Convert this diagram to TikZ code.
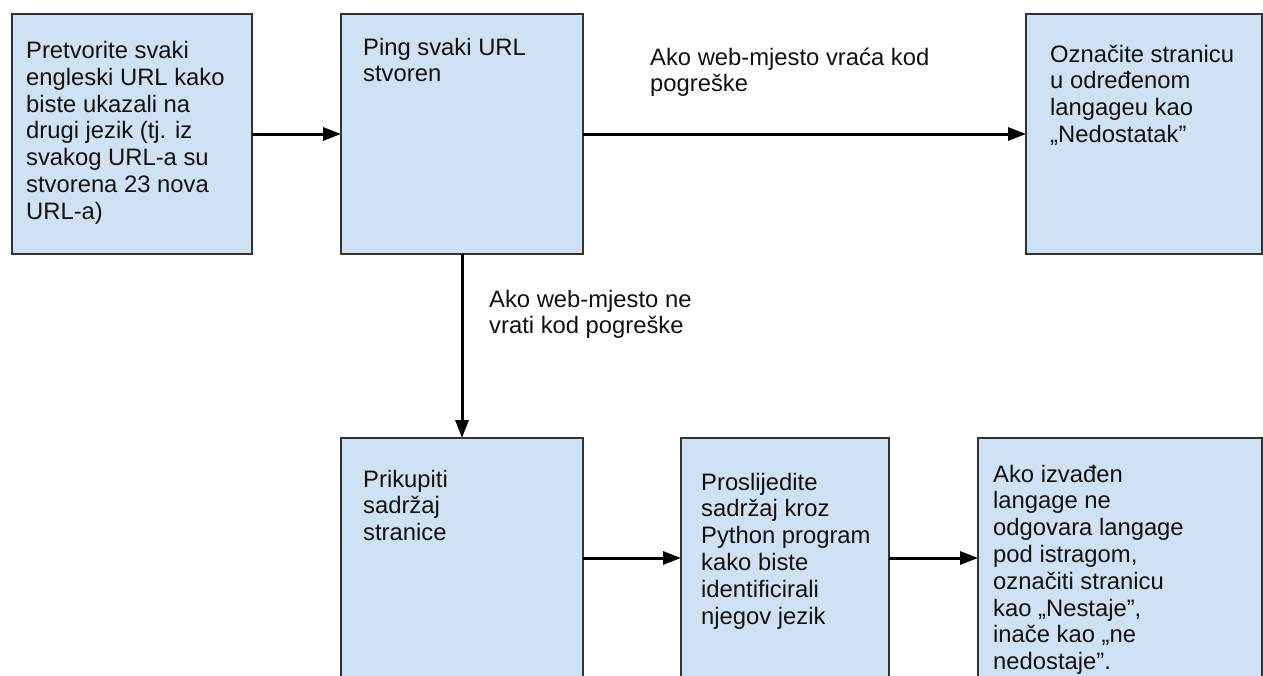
\documentclass[tikz,border=0pt]{standalone}
\usepackage{fontspec}
\setmainfont{Liberation Sans}
\usetikzlibrary{arrows.meta}
\definecolor{boxfill}{HTML}{CFE2F3}
\definecolor{boxline}{HTML}{333333}
\definecolor{txtcol}{HTML}{111111}
\newcommand\mytxt[1]{\parbox[t]{400pt}{\raggedright #1}}
\begin{document}
\begin{tikzpicture}[x=1pt,y=-1pt,
  box/.style={draw=boxline, fill=boxfill, line width=2pt, inner sep=0pt, outer sep=0pt, anchor=north west},
  arr/.style={line width=3pt, draw=black, -{Triangle[length=18pt,width=13pt]}},
  txt/.style={anchor=base west, inner sep=0pt, text=txtcol, font=\fontsize{23.8}{26.8}\selectfont}]
\useasboundingbox (0,0) rectangle (1263,675);
\clip (0,0) rectangle (1263,675);
% boxes
\node[box, minimum width=240pt, minimum height=240pt] (b1) at (12,14) {};
\node[box, minimum width=242pt, minimum height=240pt] (b2) at (341,14) {};
\node[box, minimum width=236pt, minimum height=240pt] (b3) at (1026,14) {};
\node[box, minimum width=242pt, minimum height=240pt] (b4) at (341,438) {};
\node[box, minimum width=208pt, minimum height=240pt] (b5) at (681,438) {};
\node[box, minimum width=284pt, minimum height=240pt] (b6) at (978,438) {};
% connectors
\draw[arr] (b1) -- (b2);
\draw[arr] (b2) -- (b3);
\draw[arr] (b2) -- (b4);
\draw[arr] (b4) -- (b5);
\draw[arr] (b5) -- (b6);
% texts
\node[txt] (t1) at (26,58.5) {\mytxt{Pretvorite svaki\\engleski URL kako\\biste ukazali na\\drugi jezik (tj. iz\\svakog URL-a su\\stvorena 23 nova\\URL-a)}};
\node[txt] (t2) at (363,55) {\mytxt{Ping svaki URL\\stvoren}};
\node[txt] (t3) at (1050,62) {\mytxt{Označite stranicu\\u određenom\\langageu kao\\„Nedostatak”}};
\node[txt] (t4) at (363,487) {\mytxt{Prikupiti\\sadržaj\\stranice}};
\node[txt] (t5) at (701,490) {\mytxt{Proslijedite\\sadržaj kroz\\Python program\\kako biste\\identificirali\\njegov jezik}};
\node[txt] (t6) at (993,482) {\mytxt{Ako izvađen\\langage ne\\odgovara langage\\pod istragom,\\označiti stranicu\\kao „Nestaje”,\\inače kao „ne\\nedostaje”.}};
% labels
\node[txt] (l1) at (650,65) {\mytxt{Ako web-mjesto vraća kod\\pogreške}};
\node[txt] (l2) at (489,307) {\mytxt{Ako web-mjesto ne\\vrati kod pogreške}};
\end{tikzpicture}
\end{document}
